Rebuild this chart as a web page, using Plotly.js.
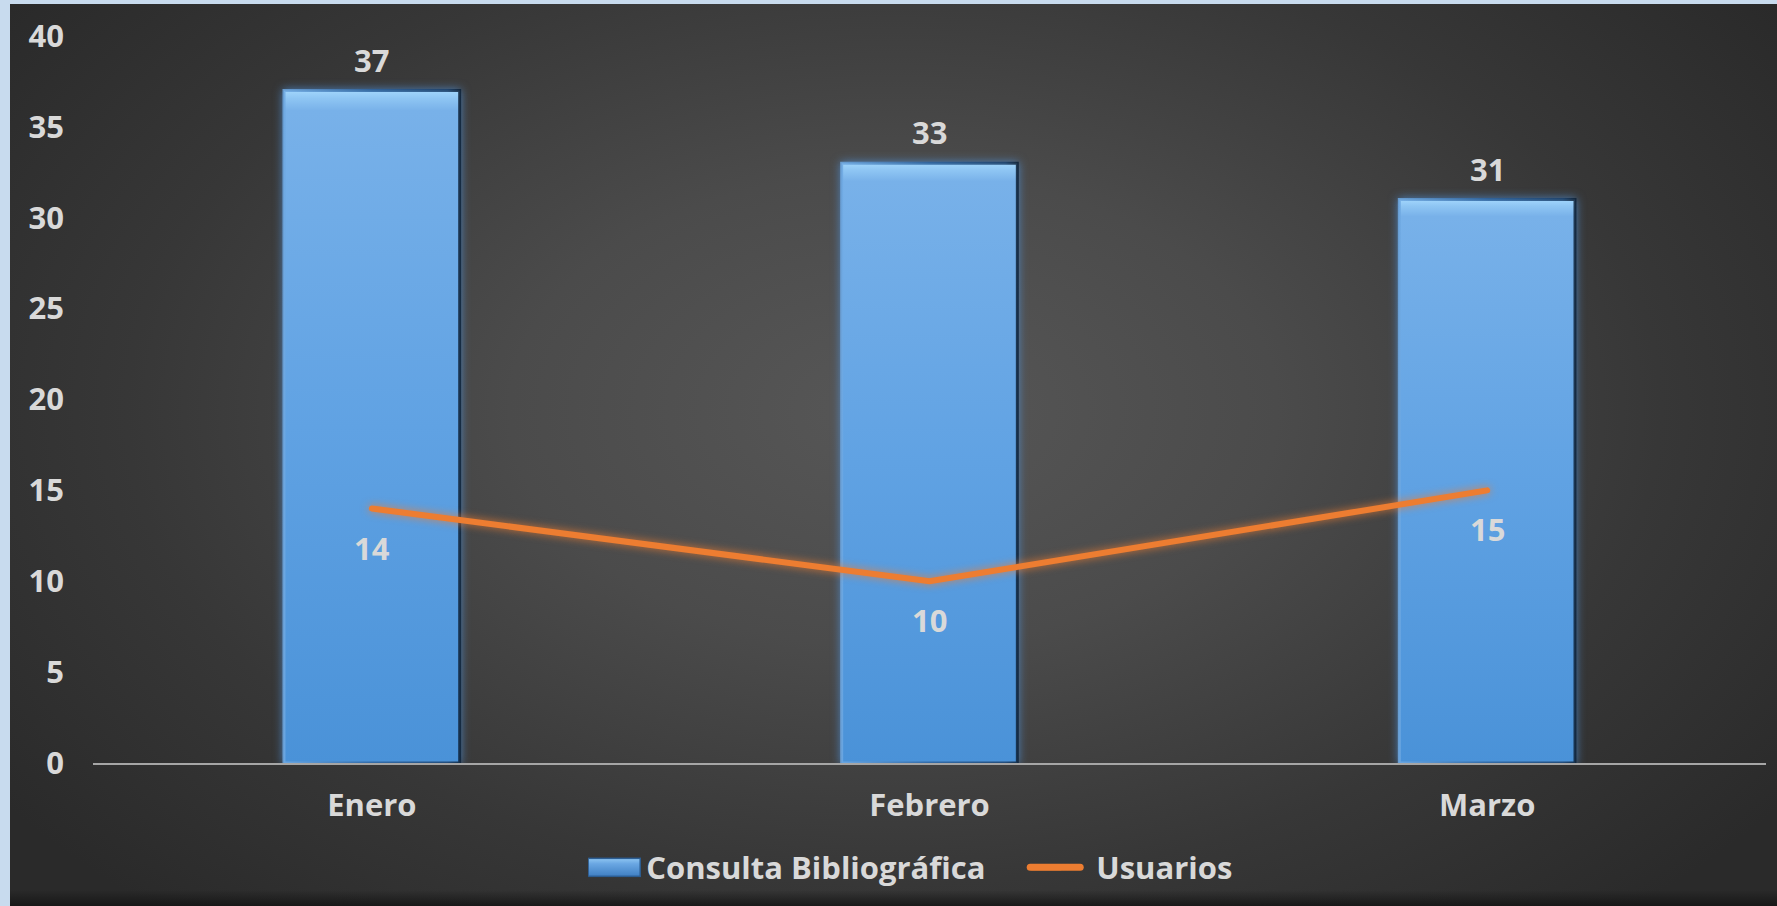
<!DOCTYPE html>
<html>
<head>
<meta charset="utf-8">
<script src="https://cdn.plot.ly/plotly-3.0.1.min.js"></script>
<style>
  html, body { margin:0; padding:0; width:1777px; height:906px; overflow:hidden; background:#c8dbee; }
  #bg { position:absolute; left:10px; top:4px; width:1767px; height:902px;
        background: radial-gradient(ellipse 62% 75% at 50% 45%, #575757 0%, #4b4b4b 35%, #373737 70%, #2a2a2a 100%); }
  #bgbottom { position:absolute; left:10px; top:890px; width:1767px; height:16px;
        background: linear-gradient(to bottom, rgba(20,20,20,0) 0%, rgba(20,20,20,0.85) 100%); }
  #chart { position:absolute; left:0; top:0; width:1777px; height:906px; }
</style>
</head>
<body>
<div id="bg"></div>
<div id="bgbottom"></div>
<div id="chart"></div>
<script>
const months = ["Enero", "Febrero", "Marzo"];
const consultas = [37, 33, 31];
const usuarios = [14, 10, 15];
const yTicks = [0, 5, 10, 15, 20, 25, 30, 35, 40];

const txtFont = { family: "Open Sans, Lato, sans-serif", size: 31, color: "#d9d9d9", weight: 700 };
const lineColor = "#ED7D31";

const traces = [
  {
    type: "bar", name: "Consulta Bibliográfica", x: months, y: consultas,
    marker: { color: "#5f9fe0", line: { color: "rgba(18,45,80,0.85)", width: 3 } },
    hoverinfo: "skip"
  },
  {
    type: "scatter", mode: "lines", name: "Usuarios", x: months, y: usuarios,
    line: { color: lineColor, width: 6 }, hoverinfo: "skip"
  }
];

const annotations = [];
months.forEach((m, i) => {
  annotations.push({ x: m, y: consultas[i], text: String(consultas[i]), showarrow: false,
    yanchor: "middle", yshift: 31, font: txtFont });
  annotations.push({ x: m, y: usuarios[i], text: String(usuarios[i]), showarrow: false,
    yanchor: "middle", yshift: -39, font: txtFont });
});

const layout = {
  width: 1777, height: 906,
  margin: { l: 93, r: 11, t: 36, b: 143 },
  paper_bgcolor: "rgba(0,0,0,0)", plot_bgcolor: "rgba(0,0,0,0)",
  bargap: 0.685,
  font: txtFont,
  showlegend: true,
  legend: { orientation: "h", x: 0.296, xanchor: "left", y: -0.144, yanchor: "middle",
    font: txtFont, bgcolor: "rgba(0,0,0,0)", entrywidth: 393, entrywidthmode: "pixels" },
  xaxis: { type: "category", showgrid: false, zeroline: false, showline: true,
    linecolor: "#a6a6a6", linewidth: 2, ticks: "", tickfont: txtFont, ticklabelstandoff: 14 },
  yaxis: { range: [0, 40], tickvals: yTicks, ticktext: yTicks.map(String), showgrid: false,
    zeroline: false, showline: false, ticks: "", tickfont: txtFont, ticklabelstandoff: 28 },
  annotations: annotations
};

function restyleSvg(gd) {
  const svg = gd.querySelector("svg.main-svg");
  const ns = "http://www.w3.org/2000/svg";
  const defs = svg.querySelector("defs");
  function addGrad(id, horiz, stops) {
    if (svg.querySelector("#" + id)) return;
    const g = document.createElementNS(ns, "linearGradient");
    g.setAttribute("id", id);
    g.setAttribute("x1", "0"); g.setAttribute("y1", "0");
    g.setAttribute("x2", horiz ? "1" : "0"); g.setAttribute("y2", horiz ? "0" : "1");
    stops.forEach(([o, c]) => {
      const s = document.createElementNS(ns, "stop");
      s.setAttribute("offset", o); s.setAttribute("stop-color", c);
      g.appendChild(s);
    });
    defs.appendChild(g);
  }
  addGrad("barGrad", false, [["0", "#a2d6fc"], ["0.012", "#8ec5f3"], ["0.03", "#78b1e9"], ["0.5", "#60a2e3"], ["1", "#4a92d8"]]);
  addGrad("edgeGrad", true, [["0", "#6fa9e2"], ["0.5", "#2f65a0"], ["0.93", "#1d426c"], ["1", "#0e2238"]]);
  addGrad("legGrad", false, [["0", "#8fc6f2"], ["0.3", "#6aa7e3"], ["1", "#3f7fc3"]]);

  gd.querySelectorAll(".barlayer .point path").forEach(p => {
    p.style.fill = "url(#barGrad)";
    p.style.stroke = "url(#edgeGrad)";
    p.style.filter = "drop-shadow(0 0 5px rgba(80,150,225,0.75))";
  });
  gd.querySelectorAll(".scatterlayer .js-line").forEach(p => {
    p.style.strokeLinecap = "round";
    p.style.filter = "drop-shadow(0 0 4px rgba(237,125,49,0.85))";
  });

  const items = gd.querySelectorAll(".legend .traces");
  if (items.length >= 2) {
    // hide library's default symbols, draw own wider symbols inside the legend entries
    items.forEach(it => it.querySelectorAll(".legendpoints").forEach(lp => lp.style.opacity = 0));
    if (!items[0].querySelector(".custom-sym")) {
      const r = document.createElementNS(ns, "rect");
      r.setAttribute("class", "custom-sym");
      r.setAttribute("x", 0); r.setAttribute("y", -9);
      r.setAttribute("width", 52); r.setAttribute("height", 18);
      r.style.fill = "url(#legGrad)";
      r.style.stroke = "#2c5d92";
      r.style.strokeWidth = "1.5px";
      items[0].appendChild(r);
    }
    if (!items[1].querySelector(".custom-sym")) {
      const l = document.createElementNS(ns, "path");
      l.setAttribute("class", "custom-sym");
      l.setAttribute("d", "M4,0h50");
      l.style.fill = "none";
      l.style.stroke = lineColor;
      l.style.strokeWidth = "7px";
      l.style.strokeLinecap = "round";
      items[1].appendChild(l);
    }
    const t0 = items[0].querySelector("text.legendtext");
    if (t0) t0.setAttribute("x", 58);
    const t1 = items[1].querySelector("text.legendtext");
    if (t1) t1.setAttribute("x", 70);
  }
}

Plotly.newPlot("chart", traces, layout, { staticPlot: true, displayModeBar: false }).then(gd => {
  restyleSvg(gd);
  setTimeout(() => restyleSvg(gd), 50);
  setTimeout(() => restyleSvg(gd), 300);
});
</script>
</body>
</html>
